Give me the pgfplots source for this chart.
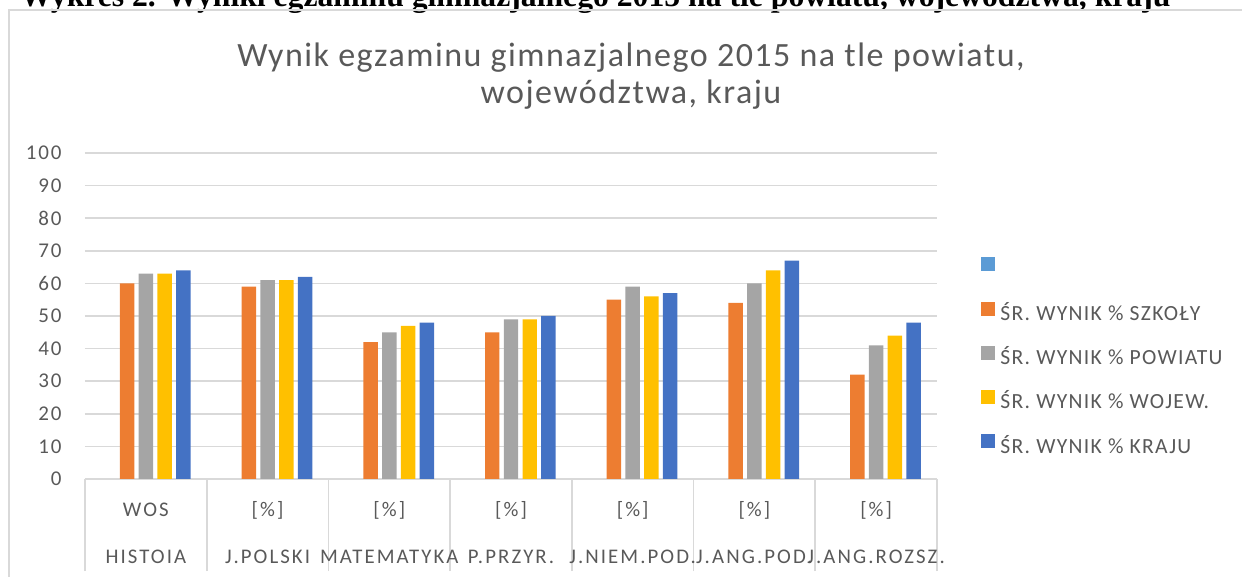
\documentclass[border=0pt]{standalone}
\usepackage{fontspec}
\setmainfont{Carlito}
\newfontfamily\headfont{Liberation Serif}
\usepackage{pgfplots}
\pgfplotsset{compat=1.18}
\definecolor{cOr}{HTML}{ED7D31}
\definecolor{cGr}{HTML}{A5A5A5}
\definecolor{cYe}{HTML}{FFC000}
\definecolor{cBl}{HTML}{4472C4}
\definecolor{cLb}{HTML}{5B9BD5}
\definecolor{txt}{HTML}{595959}
\definecolor{gridc}{HTML}{D9D9D9}
\begin{document}
\begin{tikzpicture}
\useasboundingbox (0pt,0pt) rectangle (621pt,288.5pt);
\begin{scope}
\clip (0pt,0pt) rectangle (621pt,288.5pt);
\node[anchor=base west, inner sep=0pt] at (10pt,285pt) {\resizebox{575pt}{!}{\headfont\bfseries Wykres 2. Wyniki egzaminu gimnazjalnego 2015 na tle powiatu, województwa, kraju}};
\end{scope}
\draw[gridc, line width=1pt] (4.25pt,-2pt) -- (4.25pt,283.5pt) -- (625pt,283.5pt);
\node[anchor=base, text=txt, font=\fontsize{17}{20}\selectfont\addfontfeatures{LetterSpace=4.4}, inner sep=0pt] at (315.5pt,255.2pt) {Wynik egzaminu gimnazjalnego 2015 na tle powiatu,};
\node[anchor=base, text=txt, font=\fontsize{17}{20}\selectfont\addfontfeatures{LetterSpace=4.4}, inner sep=0pt] at (315.5pt,236.5pt) {województwa, kraju};
\begin{axis}[
  at={(42.5pt,49pt)}, anchor=south west,
  scale only axis, width=426pt, height=163pt,
  xmin=-0.5, xmax=6.5, ymin=0, ymax=100,
  ytick={0,10,...,100},
  ymajorgrids, grid style={gridc, line width=0.8pt},
  axis x line*=bottom, axis y line*=left,
  y axis line style={draw=none},
  x axis line style={gridc, line width=0.8pt, -},
  ytick style={draw=none},
  tick align=outside, major tick length=0pt,
  minor xtick={-0.5,0.5,...,6.5}, minor tick length=46pt,
  minor x tick style={gridc, line width=0.8pt},
  /pgf/number format/assume math mode=true,
  y tick label style={text=txt, font=\fontsize{10.5}{12}\selectfont\addfontfeatures{LetterSpace=9}, inner sep=0pt, anchor=east, xshift=-11.5pt},
  xtick={0,...,6},
  xticklabels={WOS,{[\%]},{[\%]},{[\%]},{[\%]},{[\%]},{[\%]}},
  x tick label style={text=txt, font=\fontsize{10.4}{12}\selectfont\addfontfeatures{LetterSpace=10}, anchor=base, yshift=-19pt},
  extra x ticks={0,...,6},
  extra x tick labels={HISTOIA,J.POLSKI,MATEMATYKA,P.PRZYR.,J.NIEM.POD.,J.ANG.POD.,J.ANG.ROZSZ.},
  extra x tick style={x tick label style={yshift=-23.5pt}},
  ybar, bar width=0.119,
  legend style={at={(1.0516,0.681)}, anchor=north west, draw=none, fill=none, inner sep=0pt,
    row sep=9.6pt, column sep=2.5pt,
    nodes={inner sep=0pt, text height=8pt, text depth=3pt, text=txt, font=\fontsize{10.8}{12}\selectfont\addfontfeatures{LetterSpace=6}}},
  legend cell align=left,
  legend image code/.code={\fill[#1] (0pt,0pt) rectangle (7pt,7pt);},
]
\addlegendimage{fill=cLb, draw=none}
\addlegendentry{\mbox{}}
\addplot[fill=cOr, draw=none, bar shift=-0.154] coordinates {(0,60) (1,59) (2,42) (3,45) (4,55) (5,54) (6,32)};
\addlegendentry{ŚR. WYNIK \% SZKOŁY}
\addplot[fill=cGr, draw=none, bar shift=0] coordinates {(0,63) (1,61) (2,45) (3,49) (4,59) (5,60) (6,41)};
\addlegendentry{ŚR. WYNIK \% POWIATU}
\addplot[fill=cYe, draw=none, bar shift=0.154] coordinates {(0,63) (1,61) (2,47) (3,49) (4,56) (5,64) (6,44)};
\addlegendentry{ŚR. WYNIK \% WOJEW.}
\addplot[fill=cBl, draw=none, bar shift=0.308] coordinates {(0,64) (1,62) (2,48) (3,50) (4,57) (5,67) (6,48)};
\addlegendentry{ŚR. WYNIK \% KRAJU}
\end{axis}
\end{tikzpicture}
\end{document}
